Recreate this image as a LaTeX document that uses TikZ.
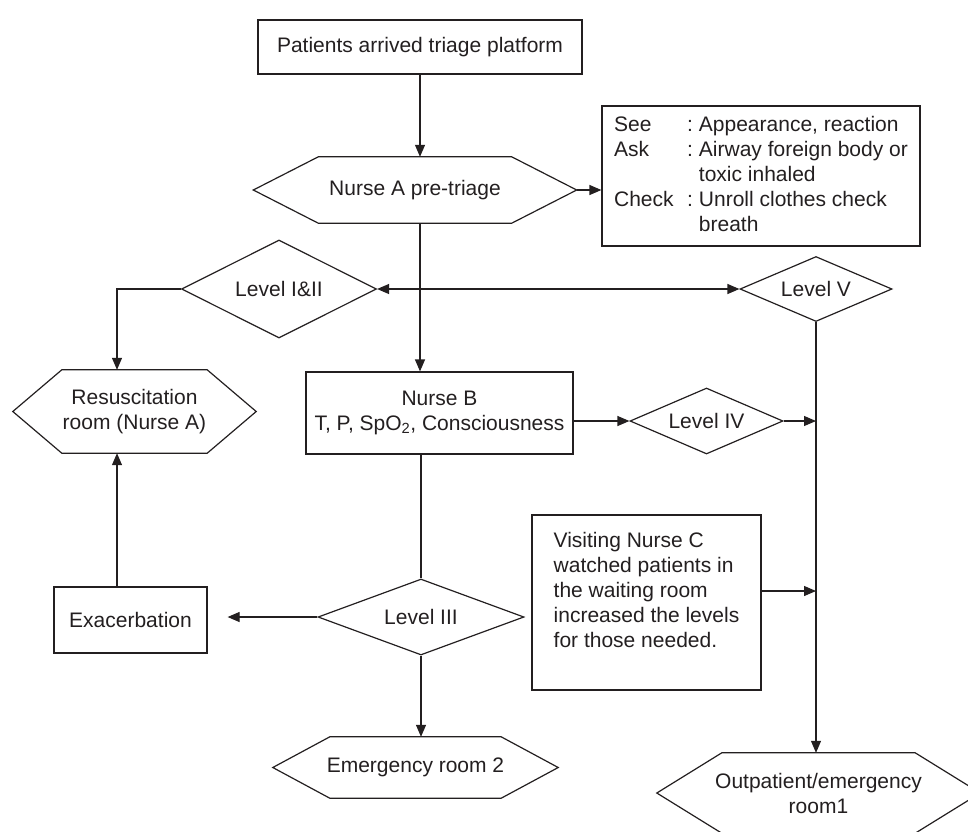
\documentclass[tikz,border=0pt]{standalone}
\usepackage{fontspec}
\setmainfont{Liberation Sans}
\usepackage{tikz}
\usetikzlibrary{shapes.geometric,arrows.meta}
\definecolor{ink}{HTML}{231F20}

% outline of a room / nurse step, pointed left and right
\newcommand{\hexframe}[2]{%
    \draw[line] (#1.west) -- ([xshift=#2]#1.north west) -- ([xshift=-#2]#1.north east)
        -- (#1.east) -- ([xshift=-#2]#1.south east) -- ([xshift=#2]#1.south west) -- cycle;}

\begin{document}
\begin{tikzpicture}[x=1pt, y=-1pt, font=\fontsize{21}{25}\selectfont,
    every node/.style={text=ink},
    line/.style={draw=ink, line width=1.2pt},
    arr/.style={line, -{Triangle[length=12pt,width=10pt]}},
    dbl/.style={line, {Triangle[length=12pt,width=10pt]}-{Triangle[length=12pt,width=10pt]}},
    box/.style={rectangle, draw=ink, line width=1.2pt, inner sep=0pt, align=center},
    level/.style={diamond, draw=ink, line width=1.2pt, inner sep=0pt, aspect=2.3},
    hexa/.style={rectangle, inner sep=0pt, align=center}]
        \useasboundingbox (0,0) rectangle (968,831);

        % Define the steps
        \node[box, minimum width=324pt, minimum height=54pt] (P) at (420,47) {Patients arrived triage platform};
        \node[hexa, minimum width=323pt, minimum height=66pt] (NA) at (415,190) {Nurse A pre-triage};
        \hexframe{NA}{65pt}
        \node[box, minimum width=318pt, minimum height=140pt, align=left] (info) at (761,176) {%
            \begin{tabular}{@{}p{73pt}@{}l@{\hspace{6pt}}l@{}}
            See & : & Appearance, reaction\\
            Ask & : & Airway foreign body or\\
                &   & toxic inhaled\\
            Check & : & Unroll clothes check\\
                &   & breath
            \end{tabular}};

        % Define the levels
        \node[level, minimum width=195pt, minimum height=98pt] (L12) at (279,289) {Level I\&II};
        \node[level, minimum width=152pt, minimum height=65pt] (L5) at (816,289) {Level V};
        \node[hexa, minimum width=243pt, minimum height=83pt] (Res) at (134.5,411.5) {Resuscitation\\room (Nurse A)};
        \hexframe{Res}{49pt}
        \node[box, minimum width=267pt, minimum height=82pt] (NB) at (439.5,413) {Nurse B\\T, P, SpO\textsubscript{2}, Consciousness};
        \node[level, minimum width=153pt, minimum height=66pt] (L4) at (706.5,421) {Level IV};
        \node[box, minimum width=229pt, minimum height=175pt, align=left] (NC) at (646.5,602.5) {Visiting Nurse C\\watched patients in\\the waiting room\\increased the levels\\for those needed.\\~};
        \node[level, minimum width=206pt, minimum height=76pt] (L3) at (421,617) {Level III};
        \node[box, minimum width=153pt, minimum height=66pt] (Ex) at (130.5,620) {Exacerbation};

        % Define the rooms
        \node[hexa, minimum width=285pt, minimum height=61pt] (ER2) at (415.5,767.5) {Emergency room 2};
        \hexframe{ER2}{57pt}
        \node[hexa, minimum width=323pt, minimum height=80pt] (OP) at (818.5,793) {Outpatient/emergency\\room1};
        \hexframe{OP}{65pt}

        % Define the edges
        \draw[arr] (P.south) -- (P.south |- NA.north);
        \draw[arr] (NA.east) -- (NA.east -| info.west);
        \draw[arr] (P.south |- NA.south) -- (P.south |- NB.north);
        \draw[dbl] (L12.east) -- (L5.west);
        \draw[arr] (L12.west) -| ([xshift=-17.5pt]Res.north);
        \draw[arr] ([xshift=-13.5pt]Ex.north) -- ([xshift=-13.5pt]Ex.north |- Res.south);
        \draw[arr] (L4.west -| NB.east) -- (L4.west);
        \draw[arr] (L4.east) -- (L4.east -| L5.south);
        \draw[arr] (L5.south) -- (L5.south |- OP.north);
        \draw[arr] ([yshift=11.5pt]NC.east) -- ([yshift=11.5pt]NC.east -| L5.south);
        \draw[line] (L3.north |- NB.south) -- (L3.north);
        \draw[arr] (L3.west) -- ([xshift=20pt]Ex.east |- L3.west);
        \draw[arr] (L3.south) -- (L3.south |- ER2.north);

    \end{tikzpicture}
\end{document}
